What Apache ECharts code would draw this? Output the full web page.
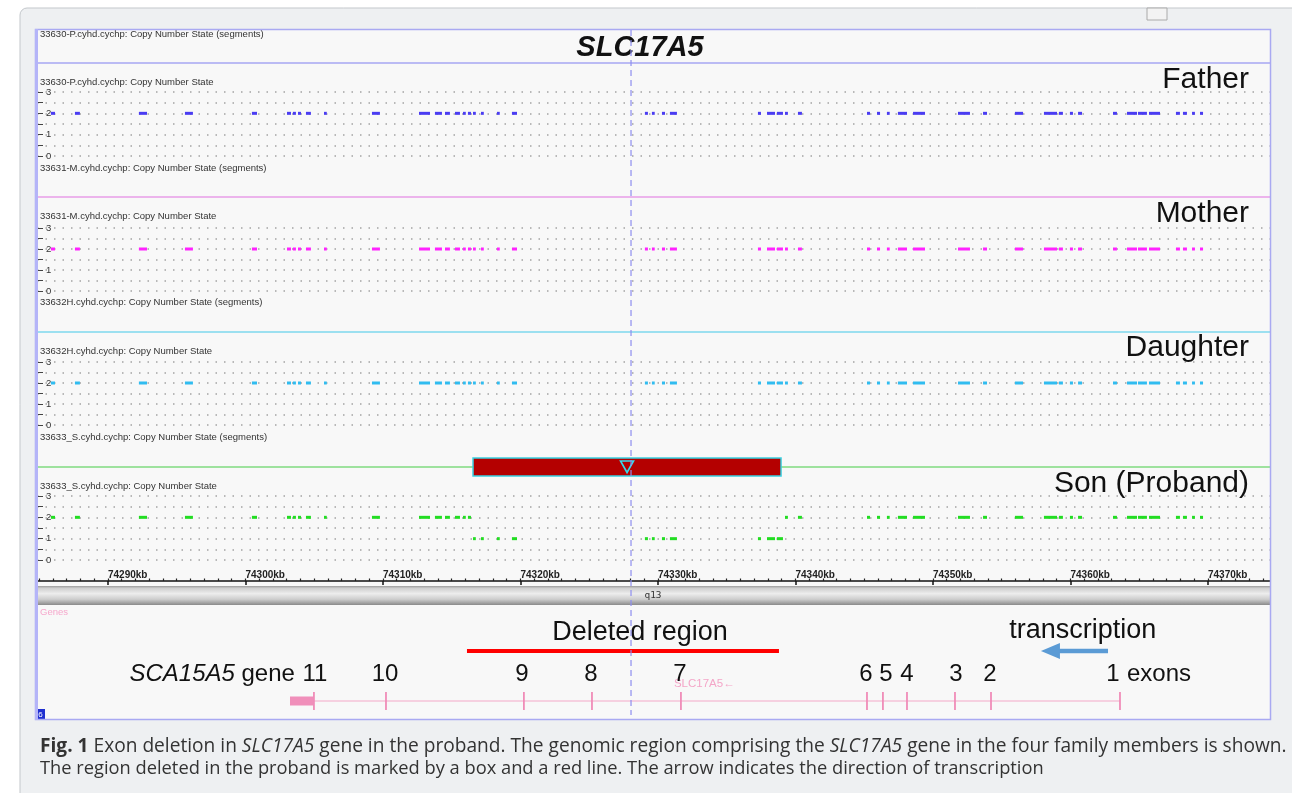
<!DOCTYPE html>
<html><head><meta charset="utf-8">
<script src="https://cdn.jsdelivr.net/npm/echarts@6/dist/echarts.min.js"></script>
<style>html,body{margin:0;padding:0;background:#fff}#c{width:1292px;height:793px}</style>
</head><body><div id="c"></div>
<script>
// ---------------- data ----------------
const xRange = [74284.84, 74374.51];
const rulerTicks = [74290, 74300, 74310, 74320, 74330, 74340, 74350, 74360, 74370];
const cursorKb = 74328.04;
const sampleIds = ['33630-P', '33631-M', '33632H', '33633_S'];
const relations = ['Father', 'Mother', 'Daughter', 'Son (Proband)'];
const probeStart = [74285.85, 74287.60, 74292.25, 74295.60, 74300.47, 74303.02, 74303.45, 74303.82, 74304.40, 74305.71,
  74309.20, 74312.62, 74313.78, 74314.51, 74315.24, 74315.82, 74316.18, 74316.55, 74317.13, 74318.29,
  74319.38, 74329.05, 74329.56, 74330.29, 74330.87, 74337.27, 74337.93, 74338.65, 74339.24, 74340.18,
  74345.20, 74345.93, 74346.65, 74347.45, 74348.55, 74351.82, 74353.64, 74355.96, 74358.07, 74359.16,
  74359.96, 74360.55, 74363.09, 74364.11, 74364.91, 74365.71, 74367.67, 74368.18, 74368.84, 74369.42];
const probeEnd = [74286.15, 74287.96, 74292.84, 74296.18, 74300.84, 74303.31, 74303.67, 74304.04, 74304.76, 74305.85,
  74309.78, 74313.42, 74314.29, 74314.87, 74315.60, 74315.96, 74316.40, 74316.62, 74317.20, 74318.44,
  74319.75, 74329.27, 74329.71, 74330.51, 74331.38, 74337.49, 74338.51, 74339.09, 74339.45, 74340.47,
  74345.42, 74346.15, 74346.80, 74348.11, 74349.42, 74352.69, 74353.93, 74356.55, 74359.02, 74359.45,
  74360.18, 74360.84, 74363.38, 74364.84, 74365.56, 74366.51, 74367.96, 74368.47, 74369.05, 74369.64];
const fatherCN = [2,2,2,2,2,2,2,2,2,2, 2,2,2,2,2,2,2,2,2,2, 2,2,2,2,2,2,2,2,2,2, 2,2,2,2,2,2,2,2,2,2, 2,2,2,2,2,2,2,2,2,2];
const motherCN = [2,2,2,2,2,2,2,2,2,2, 2,2,2,2,2,2,2,2,2,2, 2,2,2,2,2,2,2,2,2,2, 2,2,2,2,2,2,2,2,2,2, 2,2,2,2,2,2,2,2,2,2];
const daughterCN = [2,2,2,2,2,2,2,2,2,2, 2,2,2,2,2,2,2,2,2,2, 2,2,2,2,2,2,2,2,2,2, 2,2,2,2,2,2,2,2,2,2, 2,2,2,2,2,2,2,2,2,2];
const sonCN = [2,2,2,2,2,2,2,2,2,2, 2,2,2,2,2,2,2,1,1,1, 1,1,1,1,1,1,1,1,2,2, 2,2,2,2,2,2,2,2,2,2, 2,2,2,2,2,2,2,2,2,2];
const deletionSegment = [74316.55, 74338.95];
const deletedRegion = [74316.11, 74338.80];
const geneStart = 74303.24;
const geneEnd = 74363.60;
const geneLabelKb = 74331.16;
const exonNumbers = [11, 10, 9, 8, 7, 6, 5, 4, 3, 2, 1];
const exonKb = [74304.98, 74310.22, 74320.25, 74325.20, 74331.67, 74345.20, 74346.36, 74348.11, 74351.60, 74354.22, 74363.60];
const exonLabelKb = [74305.05, 74310.15, 74320.11, 74325.13, 74331.60, 74345.13, 74346.58, 74348.11, 74351.67, 74354.15, 74363.09];
const transcriptionArrow = [74362.73, 74357.85];
const deletedTextKb = 74328.69;
const transcriptionTextKb = 74360.90;

// ---------------- layout / style ----------------
const FONT = '"Liberation Sans", Arial, Helvetica, sans-serif';
const CAPFONT = '"Open Sans", sans-serif';
const GL = 37, GR = 22;
const cnTops = [92, 228, 362, 496];
const cnHeights = [64, 63, 63, 64];
const sepY = [63, 197, 332, 467];
const trackLabelY = [82, 216, 351, 486];
const segLabelY = [34, 168, 302, 437];
const nameY = [80, 214, 348, 484];
const cnColors = ['#4a3cf2', '#ff22ff', '#30bcf0', '#22dd22'];
const sepColors = ['#7f7fef', '#e070e0', '#40c8e8', '#44cc44'];

const chart = echarts.init(document.getElementById('c'), null, {width: 1292, height: 793});

const grids = [];
const xAxes = [];
const yAxes = [];
for (let i = 0; i < 4; i++) {
  grids.push({left: GL, right: GR, top: cnTops[i], height: cnHeights[i]});
  xAxes.push({gridIndex: i, type: 'value', min: xRange[0], max: xRange[1], show: false});
  yAxes.push({
    gridIndex: i, type: 'value', min: 0, max: 3, interval: 0.5,
    axisLine: {show: false},
    axisTick: {show: true, inside: true, length: 6, lineStyle: {color: '#444', width: 1}},
    axisLabel: {inside: true, margin: 9, fontSize: 9.5, color: '#333', fontFamily: FONT,
      formatter: v => (v % 1 === 0 ? String(v) : '')},
    splitLine: {show: true, lineStyle: {color: '#a3a3a3', width: 1.5, type: [1.5, 7]}}
  });
}
// 4: son segment track
grids.push({left: GL, right: GR, top: 458, height: 18});
xAxes.push({gridIndex: 4, type: 'value', min: xRange[0], max: xRange[1], show: false});
yAxes.push({gridIndex: 4, type: 'value', min: 0, max: 1, show: false});
// 5: ruler major
grids.push({left: GL, right: GR, top: 560, height: 21});
xAxes.push({gridIndex: 5, type: 'value', min: xRange[0], max: xRange[1], position: 'bottom',
  axisLine: {show: true, lineStyle: {color: '#111', width: 1.5}},
  axisTick: {show: true, customValues: rulerTicks, inside: false, length: 4, lineStyle: {color: '#111', width: 1.5}},
  axisLabel: {show: true, customValues: rulerTicks, inside: true, margin: 1, align: 'left',
    fontSize: 10, fontWeight: 'bold', color: '#222', fontFamily: FONT, formatter: v => v + 'kb'},
  splitLine: {show: false}});
yAxes.push({gridIndex: 5, type: 'value', min: 0, max: 1, show: false});
// 6: ruler minor
const minorTicks = [];
for (let k = Math.ceil(xRange[0]); k <= xRange[1]; k++) minorTicks.push(k);
grids.push({left: GL, right: GR, top: 560, height: 21});
xAxes.push({gridIndex: 6, type: 'value', min: xRange[0], max: xRange[1], position: 'bottom',
  axisLine: {show: false},
  axisTick: {show: true, customValues: minorTicks, inside: true, length: 2.5, lineStyle: {color: '#222', width: 1.2}},
  axisLabel: {show: false}, splitLine: {show: false}});
yAxes.push({gridIndex: 6, type: 'value', min: 0, max: 1, show: false});
// 7: genes
grids.push({left: GL, right: GR, top: 605, height: 110});
xAxes.push({gridIndex: 7, type: 'value', min: xRange[0], max: xRange[1], show: false});
yAxes.push({gridIndex: 7, type: 'value', min: 0, max: 110, inverse: true, show: false});

const cnArrays = [fatherCN, motherCN, daughterCN, sonCN];
const series = [];
cnArrays.forEach((cn, i) => {
  series.push({
    type: 'custom', xAxisIndex: i, yAxisIndex: i, clip: true,
    data: probeStart.map((s, j) => [s, probeEnd[j], cn[j]]),
    encode: {x: [0, 1], y: 2},
    renderItem: (params, api) => {
      const a = api.coord([api.value(0), api.value(2)]);
      const b = api.coord([api.value(1), api.value(2)]);
      const w = Math.max(b[0] - a[0], 2.8);
      return {type: 'rect', shape: {x: a[0], y: a[1] - 1.5, width: w, height: 3}, style: {fill: cnColors[i]}};
    }
  });
});
// deletion box
series.push({
  type: 'custom', xAxisIndex: 4, yAxisIndex: 4, z: 5,
  data: [[deletionSegment[0], deletionSegment[1]]],
  encode: {x: [0, 1]},
  renderItem: (params, api) => {
    const a = api.coord([api.value(0), 0.5]);
    const b = api.coord([api.value(1), 0.5]);
    const cx = (a[0] + b[0]) / 2;
    return {type: 'group', children: [
      {type: 'rect', shape: {x: a[0], y: a[1] - 9, width: b[0] - a[0], height: 18},
        style: {fill: '#b40000', stroke: '#38d0e0', lineWidth: 1.5}},
      {type: 'polygon', shape: {points: [[cx - 6.5, a[1] - 6], [cx + 6.5, a[1] - 6], [cx, a[1] + 5.5]]},
        style: {fill: 'none', stroke: '#38d8e8', lineWidth: 1.6}}
    ]};
  }
});
// gene body
series.push({
  type: 'custom', xAxisIndex: 7, yAxisIndex: 7,
  data: [[geneStart, geneEnd]],
  encode: {x: [0, 1]},
  renderItem: (params, api) => {
    const a = api.coord([api.value(0), 96]);
    const u = api.coord([exonKb[0], 96]);
    const b = api.coord([api.value(1), 96]);
    const t = api.coord([geneLabelKb, 79]);
    return {type: 'group', children: [
      {type: 'line', shape: {x1: u[0], y1: a[1], x2: b[0], y2: a[1]}, style: {stroke: '#f4a8c8', lineWidth: 1}},
      {type: 'rect', shape: {x: a[0], y: a[1] - 4.5, width: u[0] - a[0], height: 9}, style: {fill: '#f08fba'}},
      {type: 'text', x: t[0], y: t[1], style: {text: 'SLC17A5\u2190', fill: '#f4a6c8', fontSize: 11.5,
        fontFamily: FONT, align: 'left', verticalAlign: 'middle'}}
    ]};
  }
});
// exons
series.push({
  type: 'custom', xAxisIndex: 7, yAxisIndex: 7,
  data: exonKb.map((k, i) => [k, exonNumbers[i]]),
  encode: {x: 0},
  renderItem: (params, api) => {
    const p = api.coord([api.value(0), 96]);
    return {type: 'line', shape: {x1: p[0], y1: p[1] - 9, x2: p[0], y2: p[1] + 9},
      style: {stroke: '#f08cb8', lineWidth: 1.8}};
  }
});
// exon labels
series.push({
  type: 'custom', xAxisIndex: 7, yAxisIndex: 7,
  data: exonLabelKb.map((k, i) => [k, exonNumbers[i]]),
  encode: {x: 0},
  renderItem: (params, api) => {
    const p = api.coord([api.value(0), 69]);
    const num = api.value(1);
    const children = [{type: 'text', x: p[0], y: p[1], style: {text: String(num), fill: '#111',
      fontSize: 24, fontFamily: FONT, align: 'center', verticalAlign: 'middle'}}];
    if (params.dataIndex === 0) {
      children.push({type: 'text', x: p[0] - 20, y: p[1], style: {
        text: '{i|SCA15A5}{n| gene}', align: 'right', verticalAlign: 'middle',
        rich: {i: {fontStyle: 'italic', fontSize: 24, fontFamily: FONT, fill: '#111'},
               n: {fontSize: 24, fontFamily: FONT, fill: '#111'}}}});
    }
    if (params.dataIndex === exonLabelKb.length - 1) {
      children.push({type: 'text', x: p[0] + 14, y: p[1], style: {text: 'exons', fill: '#111',
        fontSize: 24, fontFamily: FONT, align: 'left', verticalAlign: 'middle'}});
    }
    return {type: 'group', children};
  }
});
// deleted region line + text
series.push({
  type: 'custom', xAxisIndex: 7, yAxisIndex: 7,
  data: [[deletedRegion[0], deletedRegion[1]]],
  encode: {x: [0, 1]},
  renderItem: (params, api) => {
    const a = api.coord([api.value(0), 46]);
    const b = api.coord([api.value(1), 46]);
    const t = api.coord([deletedTextKb, 28]);
    return {type: 'group', children: [
      {type: 'rect', shape: {x: a[0], y: a[1] - 2, width: b[0] - a[0], height: 4}, style: {fill: '#ff0000'}},
      {type: 'text', x: t[0], y: t[1], style: {text: 'Deleted region', fill: '#111', fontSize: 27,
        fontFamily: FONT, align: 'center', verticalAlign: 'middle'}}
    ]};
  }
});
// transcription arrow
series.push({
  type: 'custom', xAxisIndex: 7, yAxisIndex: 7,
  data: [[transcriptionArrow[0], transcriptionArrow[1]]],
  encode: {x: [0, 1]},
  renderItem: (params, api) => {
    const a = api.coord([api.value(0), 46]);
    const b = api.coord([api.value(1), 46]);
    const t = api.coord([transcriptionTextKb, 26]);
    const headLen = 19;
    return {type: 'group', children: [
      {type: 'rect', shape: {x: b[0] + headLen - 1, y: a[1] - 2.2, width: a[0] - b[0] - headLen + 1, height: 4.4},
        style: {fill: '#5b9bd5'}},
      {type: 'polygon', shape: {points: [[b[0], a[1]], [b[0] + headLen, a[1] - 8], [b[0] + headLen, a[1] + 8]]},
        style: {fill: '#5b9bd5'}},
      {type: 'text', x: t[0], y: t[1], style: {text: 'transcription', fill: '#111', fontSize: 27,
        fontFamily: FONT, align: 'center', verticalAlign: 'middle'}}
    ]};
  }
});

// ---------------- decorations ----------------
const graphic = [
  {type: 'rect', z: -20, shape: {x: 20, y: 8, width: 1290, height: 800, r: 7},
    style: {fill: '#eef0f2', stroke: '#c3c7cb', lineWidth: 1}},
  {type: 'rect', z: -19, shape: {x: 1147, y: 8, width: 20, height: 12}, style: {fill: '#f3f3f3', stroke: '#aaa', lineWidth: 1}},
  {type: 'rect', z: -15, shape: {x: 35, y: 29, width: 1236, height: 691}, style: {fill: '#f8f8f8'}},
  {type: 'rect', z: -14, shape: {x: GL, y: 586, width: 1292 - GL - GR, height: 19},
    style: {fill: new echarts.graphic.LinearGradient(0, 0, 0, 1, [
      {offset: 0, color: '#9c9c9c'}, {offset: 0.12, color: '#cfcfcf'}, {offset: 0.4, color: '#ededed'},
      {offset: 0.7, color: '#cdcdcd'}, {offset: 1, color: '#8a8a8a'}])}},
  {type: 'text', z: 10, x: 653, y: 596, style: {text: 'q13', fill: '#333', fontSize: 9.5, fontFamily: 'DejaVu Sans Mono, monospace', align: 'center', verticalAlign: 'middle'}},
  {type: 'text', z: 10, x: 40, y: 612, style: {text: 'Genes', fill: '#f6a8cc', fontSize: 9.5, fontFamily: FONT, verticalAlign: 'middle'}},
  {type: 'text', z: 10, x: 640, y: 48, style: {text: 'SLC17A5', fill: '#111', fontSize: 29, fontWeight: 'bold', fontStyle: 'italic', fontFamily: FONT, align: 'center', verticalAlign: 'middle'}},
  {type: 'rect', z: 10, shape: {x: 36, y: 709, width: 9, height: 11}, style: {fill: '#1f2fd0'}},
  {type: 'text', z: 11, x: 40.5, y: 714.5, style: {text: '6', fill: '#fff', fontSize: 8, fontFamily: FONT, align: 'center', verticalAlign: 'middle'}},
  // frame
  {type: 'rect', z: 12, shape: {x: 35.5, y: 29.5, width: 1235, height: 690}, style: {fill: 'none', stroke: '#a9a9f2', lineWidth: 1.5}},
  {type: 'line', z: 12, shape: {x1: 36.5, y1: 29, x2: 36.5, y2: 720}, style: {stroke: '#b4b4f8', lineWidth: 3}},
  {type: 'text', z: 10, x: 40, y: 747, style: {
    text: '{b|Fig. 1}{n| Exon deletion in }{i|SLC17A5}{n| gene in the proband. The genomic region comprising the }{i|SLC17A5}{n| gene in the four family members is shown.}',
    verticalAlign: 'middle',
    rich: {b: {fontWeight: 'bold', fontSize: 19.15, fontFamily: CAPFONT, fill: '#333'},
           n: {fontSize: 19.15, fontFamily: CAPFONT, fill: '#333'},
           i: {fontStyle: 'italic', fontSize: 19.15, fontFamily: CAPFONT, fill: '#333'}}}},
  {type: 'text', z: 10, x: 40, y: 769, style: {
    text: 'The region deleted in the proband is marked by a box and a red line. The arrow indicates the direction of transcription',
    fill: '#333', fontSize: 18.3, fontFamily: CAPFONT, verticalAlign: 'middle'}}
];
for (let i = 0; i < 4; i++) {
  graphic.push({type: 'line', z: 4, shape: {x1: GL, y1: sepY[i], x2: 1292 - GR, y2: sepY[i]}, style: {stroke: sepColors[i], lineWidth: 1.2}});
  graphic.push({type: 'text', z: 10, x: 40, y: segLabelY[i], style: {text: sampleIds[i] + '.cyhd.cychp: Copy Number State (segments)', fill: '#333', fontSize: 9.5, fontFamily: FONT, verticalAlign: 'middle'}});
  graphic.push({type: 'text', z: 10, x: 40, y: trackLabelY[i], style: {text: sampleIds[i] + '.cyhd.cychp: Copy Number State', fill: '#333', fontSize: 9.5, fontFamily: FONT, verticalAlign: 'middle'}});
  graphic.push({type: 'text', z: 10, x: 1249, y: nameY[i], style: {text: relations[i], fill: '#111', fontSize: 30, fontFamily: FONT, align: 'right', verticalAlign: 'middle'}});
}

chart.setOption({
  animation: false,
  backgroundColor: '#ffffff',
  grid: grids, xAxis: xAxes, yAxis: yAxes, series: series, graphic: graphic
});

const cx = chart.convertToPixel({xAxisIndex: 0}, cursorKb);
graphic.push({type: 'line', z: 13, shape: {x1: cx, y1: 30, x2: cx, y2: 715}, style: {stroke: '#8f8ff0', lineWidth: 1.2, lineDash: [6, 4]}});
chart.setOption({graphic: graphic});
</script></body></html>
